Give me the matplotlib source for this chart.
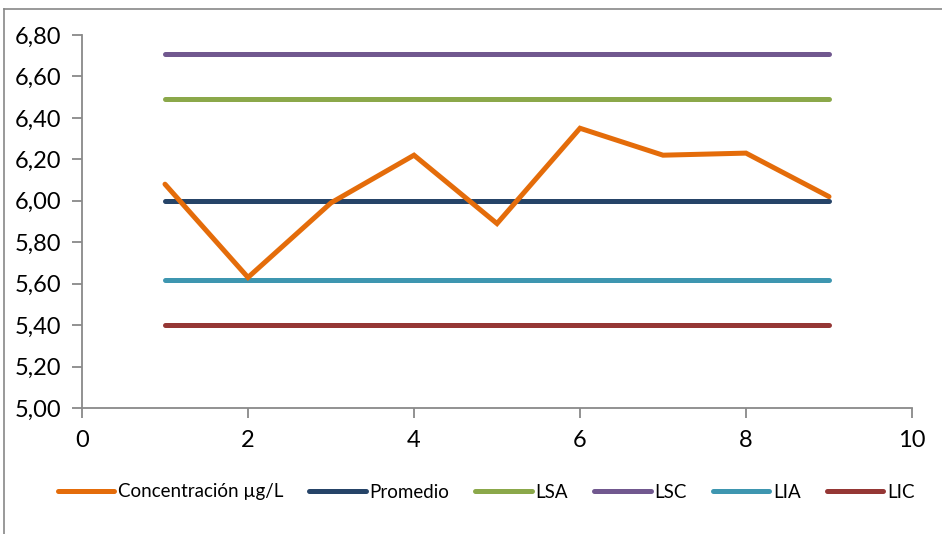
import matplotlib
matplotlib.use("Agg")
import matplotlib.pyplot as plt
from matplotlib.lines import Line2D
from matplotlib.ticker import FuncFormatter, MultipleLocator

plt.rcParams['font.family'] = ['Lato', 'DejaVu Sans']

# Sample index and measured concentration
muestra = [1, 2, 3, 4, 5, 6, 7, 8, 9]
concentracion = [6.08, 5.63, 5.99, 6.22, 5.89, 6.35, 6.22, 6.23, 6.02]

# Control chart reference levels
promedio = 6.00
lsa = 6.49
lsc = 6.71
lia = 5.62
lic = 5.40

series_names = ["Concentración µg/L", "Promedio", "LSA", "LSC", "LIA", "LIC"]
colors = ["#E46C0A", "#264468", "#8BA84A", "#71588F", "#3E96B0", "#953735"]

fig = plt.figure(figsize=(9.42, 5.34), dpi=100)
ax = fig.add_axes([82 / 942, 1 - 408 / 534, 830 / 942, 373 / 534])

lw = 3.6
levels = [promedio, lsa, lsc, lia, lic]
for val, col in zip(levels, colors[1:]):
    ax.plot([muestra[0], muestra[-1]], [val, val], color=col, lw=lw,
            solid_capstyle='round', zorder=2)
ax.plot(muestra, concentracion, color=colors[0], lw=lw,
        solid_capstyle='round', solid_joinstyle='miter', zorder=3)

ax.set_xlim(0, 10)
ax.set_ylim(5.0, 6.8)
ax.xaxis.set_major_locator(MultipleLocator(2))
ax.yaxis.set_major_locator(MultipleLocator(0.2))
ax.yaxis.set_major_formatter(FuncFormatter(lambda v, p: f"{v:.2f}".replace('.', ',')))
ax.xaxis.set_major_formatter(FuncFormatter(lambda v, p: f"{int(round(v))}"))

for s in ['top', 'right']:
    ax.spines[s].set_visible(False)
for s in ['left', 'bottom']:
    ax.spines[s].set_color('#898989')
    ax.spines[s].set_linewidth(1.3)
ax.tick_params(axis='both', colors='#898989', length=7, width=1.3,
               labelcolor='black', labelsize=17)
ax.tick_params(axis='y', pad=8)
ax.tick_params(axis='x', pad=9)

handles = [Line2D([0], [0], color=c, lw=lw, solid_capstyle='round') for c in colors]
fig.legend(handles, series_names, loc='center', bbox_to_anchor=(486 / 942, 1 - 492 / 534),
           ncol=6, frameon=False, fontsize=13.5, handlelength=3.0, handletextpad=0.2,
           columnspacing=1.4)

# Outer chart frame
fig.add_artist(Line2D([4 / 942, 1.0], [1 - 9 / 534, 1 - 9 / 534], color='#888888', lw=1.2,
                      transform=fig.transFigure))
fig.add_artist(Line2D([4 / 942, 4 / 942], [0.0, 1 - 9 / 534], color='#888888', lw=1.2,
                      transform=fig.transFigure))

fig.savefig("out.png", dpi=100)
